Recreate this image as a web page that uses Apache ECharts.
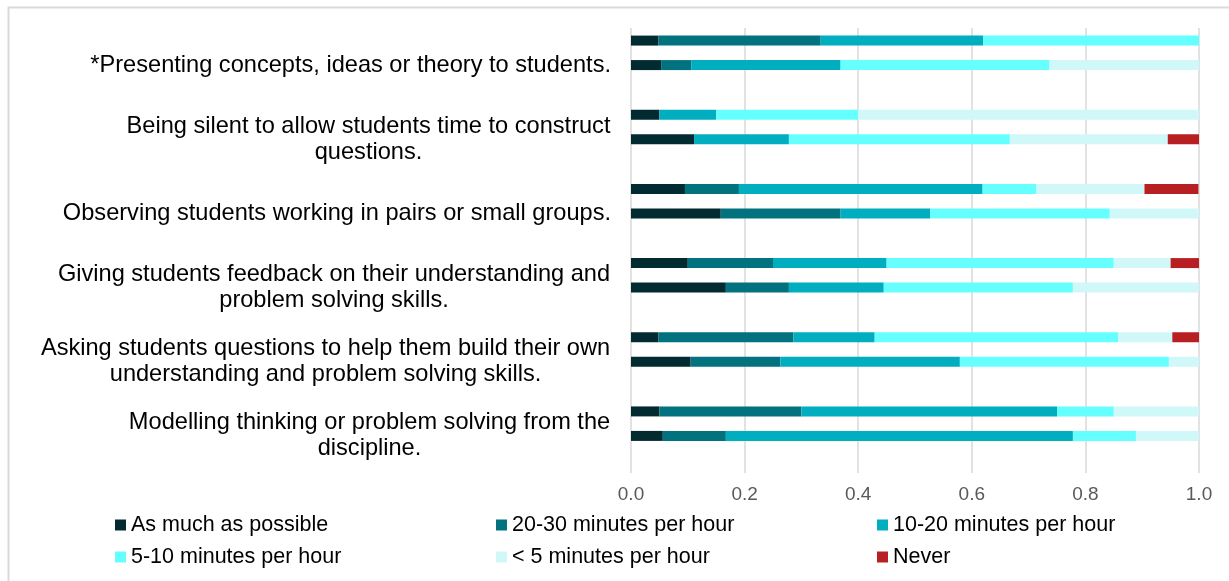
<!DOCTYPE html>
<html>
<head>
	<meta charset="utf-8">
	<title>Teaching activities</title>
	<script src="https://cdn.jsdelivr.net/npm/echarts@6/dist/echarts.min.js"></script>
	<style>
		html, body { margin: 0; padding: 0; background: #fff; }
		#chart { width: 1229px; height: 581px; }
	</style>
</head>
<body>
<div id="chart"></div>
<script>
// categories, top to bottom
var categories = [
	'*Presenting concepts, ideas or theory to students.',
	'Being silent to allow students time to construct\nquestions.',
	'Observing students working in pairs or small groups.',
	'Giving students feedback on their understanding and\nproblem solving skills.',
	'Asking students questions to help them build their own\nunderstanding and problem solving skills.',
	'Modelling thinking or problem solving from the\ndiscipline.'
];
var levels = ['As much as possible', '20-30 minutes per hour', '10-20 minutes per hour',
	'5-10 minutes per hour', '< 5 minutes per hour', 'Never'];
var levelColors = ['#022b31', '#01727e', '#00aec0', '#66ffff', '#d1f8f8', '#b71f23'];

// upper bar of each pair
var muchA  = [0.048, 0.050, 0.095, 0.100, 0.048, 0.050];
var m2030A = [0.286, 0,     0.095, 0.150, 0.238, 0.250];
var m1020A = [0.286, 0.100, 0.429, 0.200, 0.143, 0.450];
var m510A  = [0.381, 0.250, 0.095, 0.400, 0.429, 0.100];
var lt5A   = [0,     0.600, 0.190, 0.100, 0.095, 0.150];
var neverA = [0,     0,     0.095, 0.050, 0.048, 0];

// lower bar of each pair
var muchB  = [0.053, 0.111, 0.158, 0.167, 0.105, 0.056];
var m2030B = [0.053, 0,     0.211, 0.111, 0.158, 0.111];
var m1020B = [0.263, 0.167, 0.158, 0.167, 0.316, 0.611];
var m510B  = [0.368, 0.389, 0.316, 0.333, 0.368, 0.111];
var lt5B   = [0.263, 0.278, 0.158, 0.222, 0.053, 0.111];
var neverB = [0,     0.056, 0,     0,     0,     0];

var groupA = [muchA, m2030A, m1020A, m510A, lt5A, neverA];
var groupB = [muchB, m2030B, m1020B, m510B, lt5B, neverB];

var FONT = '"Liberation Sans", Arial, sans-serif';
var CAT_SIZE = 23.6;

// two-line labels: centre the lines inside a box as wide as the longest line
var ctx = document.createElement('canvas').getContext('2d');
ctx.font = CAT_SIZE + 'px "Liberation Sans"';
var rich = {};
var richKey = {};
categories.forEach(function (c, i) {
	var lines = c.split('\n');
	if (lines.length < 2) return;
	var w = 0;
	lines.forEach(function (l) { w = Math.max(w, ctx.measureText(l).width); });
	rich['c' + i] = { width: Math.ceil(w) + 1, align: 'center', fontSize: CAT_SIZE, lineHeight: 26, color: '#000', fontFamily: FONT };
	richKey[c] = 'c' + i;
});

var series = [];
levels.forEach(function (name, k) {
	series.push({
		name: name, type: 'bar', stack: 'A', barWidth: 10, barGap: '145%',
		itemStyle: { color: levelColors[k] }, data: groupA[k]
	});
});
levels.forEach(function (name, k) {
	series.push({
		name: name, type: 'bar', stack: 'B', barWidth: 10, barGap: '145%',
		itemStyle: { color: levelColors[k] }, data: groupB[k]
	});
});
// empty third slot, as in the source chart
series.push({ name: 'spacer', type: 'bar', stack: 'C', barWidth: 10, barGap: '145%', silent: true,
	data: categories.map(function () { return null; }) });

var option = {
	animation: false,
	textStyle: { fontFamily: FONT },
	grid: { left: 631, right: 30, top: 28, bottom: 108 },
	xAxis: {
		type: 'value', min: 0, max: 1, interval: 0.2,
		axisLine: { show: false },
		axisTick: { show: false },
		axisLabel: {
			color: '#595959', fontSize: 19, margin: 12,
			formatter: function (v) { return v.toFixed(1); }
		},
		splitLine: { show: true, lineStyle: { color: '#d9d9d9', width: 1.5 } }
	},
	yAxis: {
		type: 'category', inverse: true, data: categories,
		axisLine: { show: false },
		axisTick: { show: false },
		axisLabel: {
			color: '#000', fontSize: CAT_SIZE, lineHeight: 26, margin: 20,
			rich: rich,
			formatter: function (v) {
				var key = richKey[v];
				if (!key) return v;
				return v.split('\n').map(function (l) { return '{' + key + '|' + l + '}'; }).join('\n');
			}
		}
	},
	legend: {
		data: levels,
		left: 110, top: 509, width: 1150,
		icon: 'rect', itemWidth: 11, itemHeight: 11, itemGap: 10,
		textStyle: { color: '#000', fontSize: 21.5, lineHeight: 22, width: 355, fontFamily: FONT },
		selectedMode: false
	},
	graphic: [{
		type: 'rect', silent: true,
		shape: { x: 8.5, y: 7.5, width: 1240, height: 620 },
		style: { fill: null, stroke: '#d9d9d9', lineWidth: 2 }
	}],
	series: series
};

var myChart = echarts.init(document.getElementById('chart'));
myChart.setOption(option);
</script>
</body>
</html>
